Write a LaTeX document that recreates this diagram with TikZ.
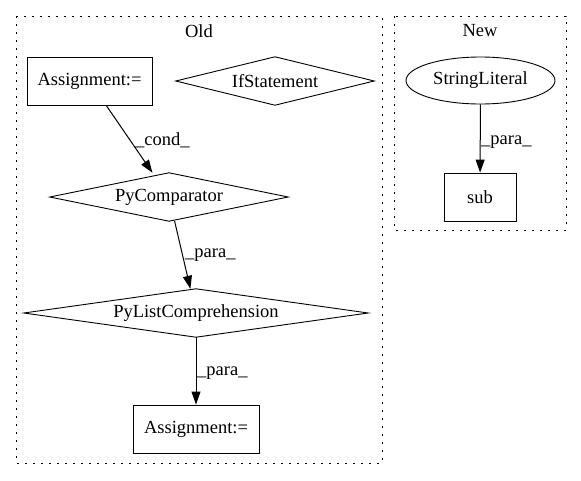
\documentclass[tikz,border=0pt]{standalone}
\usepackage{fontspec}
\setmainfont{Liberation Serif}
\usetikzlibrary{arrows.meta,shapes.geometric}
\begin{document}
\begin{tikzpicture}[x=1pt,y=-1pt,
  every node/.style={font=\fontsize{18.5}{21}\selectfont, inner sep=0pt},
  cluster/.style={draw, line width=1pt, dash pattern=on 2pt off 6pt},
  boxnode/.style={draw, line width=0.9pt, rectangle, minimum width=125pt, minimum height=48pt},
  dianode/.style={rectangle, minimum height=48pt},
  ellnode/.style={draw, line width=0.9pt, ellipse, minimum width=149pt, minimum height=47pt},
  edge/.style={line width=1pt, -{Triangle[length=13pt,width=9pt]}},
  elabel/.style={anchor=west}
]
\useasboundingbox (0,0) rectangle (581,480);
% clusters
\draw[cluster] (16,16) rectangle (382,463);
\draw[cluster] (394,16) rectangle (566,230);
\node (oldlbl) at (199,31) {Old};
\node (newlbl) at (480,31) {New};
% Old nodes
\node[boxnode] (a1) at (89.5,81) {Assignment:=};
\node[dianode, minimum width=198pt] (ifs) at (275,81) {IfStatement};
\node[dianode, minimum width=238pt] (pc) at (169,197) {PyComparator};
\node[dianode, minimum width=344pt] (plc) at (196,313) {PyListComprehension};
\node[boxnode, minimum width=126pt] (a2) at (196,429) {Assignment:=};
\foreach \n in {ifs,pc,plc}{
  \draw[line width=0.9pt, line join=miter] (\n.west) -- (\n.north) -- (\n.east) -- (\n.south) -- cycle;
}
% New nodes
\node[ellnode] (sl) at (480.5,80.5) {StringLiteral};
\node[boxnode, minimum width=72pt] (sub) at (480,197) {sub};
% edges
\draw[edge] (a1) -- (pc);
\draw[edge] (pc) -- (plc);
\draw[edge] (plc) -- (a2);
\draw[edge] (sl) -- (sub);
% edge labels
\node[elabel] (l1) at (135,140) {\_cond\_};
\node[elabel] (l2) at (185,255) {\_para\_};
\node[elabel] (l3) at (197,373) {\_para\_};
\node[elabel] (l4) at (481,142) {\_para\_};
\end{tikzpicture}
\end{document}
